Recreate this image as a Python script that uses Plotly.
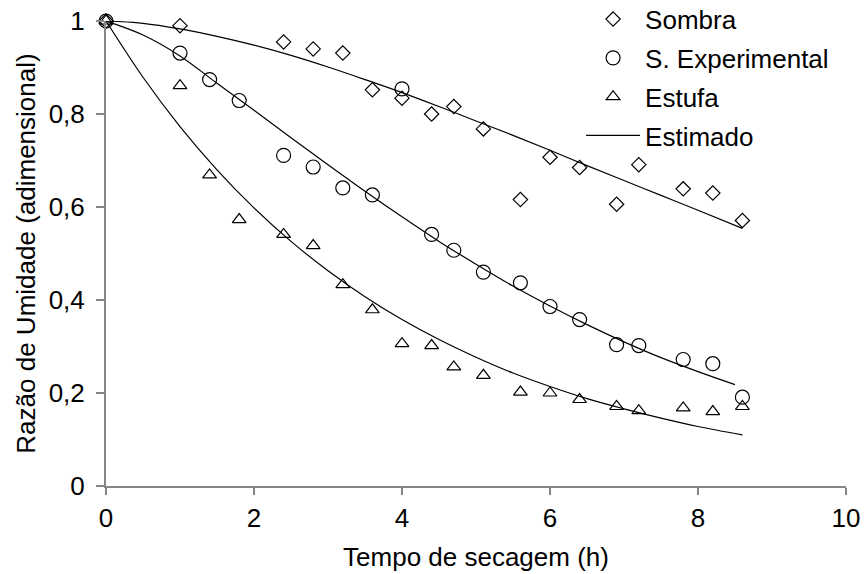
import plotly.graph_objects as go

# Observed data
tempo = [0, 1, 1.4, 1.8, 2.4, 2.8, 3.2, 3.6, 4.0, 4.4, 4.7, 5.1, 5.6, 6.0, 6.4, 6.9, 7.2, 7.8, 8.2, 8.6]
tempo_sombra = [0, 1, 2.4, 2.8, 3.2, 3.6, 4.0, 4.4, 4.7, 5.1, 5.6, 6.0, 6.4, 6.9, 7.2, 7.8, 8.2, 8.6]
sombra = [1.0, 0.99, 0.955, 0.94, 0.931, 0.852, 0.834, 0.80, 0.816, 0.768, 0.616, 0.707, 0.685, 0.606, 0.691, 0.639, 0.630, 0.571]
s_experimental = [1.0, 0.931, 0.874, 0.829, 0.711, 0.686, 0.641, 0.626, 0.854, 0.541, 0.507, 0.460, 0.437, 0.386, 0.358, 0.304, 0.302, 0.272, 0.263, 0.191]
estufa = [1.0, 0.861, 0.669, 0.573, 0.541, 0.517, 0.433, 0.379, 0.306, 0.302, 0.256, 0.238, 0.202, 0.200, 0.186, 0.171, 0.162, 0.168, 0.160, 0.171]

# Estimated (fitted) curves
t_est_sombra = [0, 0.5, 1, 1.5, 2, 2.5, 3, 3.5, 4, 4.5, 5, 5.5, 6, 6.5, 7, 7.5, 8, 8.6]
est_sombra = [1.0, 0.995, 0.983, 0.967, 0.948, 0.926, 0.901, 0.874, 0.846, 0.816, 0.785, 0.754, 0.722, 0.689, 0.657, 0.625, 0.593, 0.554]
t_est_sexp = [0, 0.5, 1, 1.5, 2, 2.5, 3, 3.5, 4, 4.5, 5, 5.5, 6, 6.5, 7, 7.5, 8, 8.5]
est_sexp = [1.0, 0.970, 0.925, 0.866, 0.808, 0.749, 0.691, 0.634, 0.579, 0.526, 0.477, 0.430, 0.387, 0.347, 0.310, 0.276, 0.246, 0.218]
t_est_estufa = [0, 0.5, 1, 1.5, 2, 2.5, 3, 3.5, 4, 4.5, 5, 5.5, 6, 6.5, 7, 7.5, 8, 8.6]
est_estufa = [1.0, 0.879, 0.773, 0.680, 0.598, 0.526, 0.463, 0.407, 0.358, 0.315, 0.277, 0.243, 0.214, 0.188, 0.166, 0.146, 0.128, 0.110]

x_ticks = [0, 2, 4, 6, 8, 10]
y_ticks = [0, 0.2, 0.4, 0.6, 0.8, 1]

FONT = "Liberation Sans, Arial, sans-serif"
FS = 26
AXIS_COLOR = "#868686"

fig = go.Figure()

fig.add_trace(go.Scatter(x=tempo_sombra, y=sombra, mode="markers", name="Sombra",
                         legendgroup="a",
                         marker=dict(symbol="diamond-open", size=11, color="black", line=dict(width=1.2, color="black")),
                         cliponaxis=False))
fig.add_trace(go.Scatter(x=tempo, y=s_experimental, mode="markers", name="S. Experimental",
                         legendgroup="b",
                         marker=dict(symbol="circle-open", size=14, color="black", line=dict(width=1.2, color="black")),
                         cliponaxis=False))
fig.add_trace(go.Scatter(x=tempo, y=estufa, mode="markers", name="Estufa",
                         legendgroup="c",
                         marker=dict(symbol="triangle-up-open", size=12, color="black", line=dict(width=1.2, color="black")),
                         cliponaxis=False))
fig.add_trace(go.Scatter(x=t_est_sombra, y=est_sombra, mode="lines", name="Estimado",
                         legendgroup="d",
                         line=dict(color="black", width=1.2, shape="spline"), cliponaxis=False))
fig.add_trace(go.Scatter(x=t_est_sexp, y=est_sexp, mode="lines", name="Estimado", showlegend=False,
                         legendgroup="d",
                         line=dict(color="black", width=1.2, shape="spline"), cliponaxis=False))
fig.add_trace(go.Scatter(x=t_est_estufa, y=est_estufa, mode="lines", name="Estimado", showlegend=False,
                         legendgroup="d",
                         line=dict(color="black", width=1.2, shape="spline"), cliponaxis=False))

fig.update_layout(
    width=864, height=574,
    margin=dict(l=106, r=18, t=21, b=88, autoexpand=False),
    paper_bgcolor="white", plot_bgcolor="white",
    separators=",.",
    font=dict(family=FONT, size=FS, color="black"),
    legend=dict(x=0.642, y=1.0545, xanchor="left", yanchor="top", xref="paper", yref="paper",
                bgcolor="rgba(0,0,0,0)", font=dict(size=FS, family=FONT),
                traceorder="grouped", tracegroupgap=2, itemwidth=54),
    showlegend=True,
)
fig.update_xaxes(range=[0, 10], tickvals=x_ticks, showgrid=False, zeroline=False,
                 showline=True, linecolor=AXIS_COLOR, linewidth=2, automargin=False,
                 ticks="outside", ticklen=7, tickwidth=2, tickcolor=AXIS_COLOR,
                 ticklabelstandoff=1, ticklabeloverflow="allow",
                 tickfont=dict(size=FS, family=FONT),
                 title=dict(text="Tempo de secagem (h)", font=dict(size=FS, family=FONT), standoff=16))
fig.update_yaxes(range=[0, 1], tickvals=y_ticks, showgrid=False, zeroline=False,
                 showline=True, linecolor=AXIS_COLOR, linewidth=2, automargin=False,
                 ticks="outside", ticklen=8, tickwidth=2, tickcolor=AXIS_COLOR,
                 ticklabelstandoff=6, ticklabeloverflow="allow",
                 tickfont=dict(size=FS, family=FONT),
                 title=dict(text="Razão de Umidade (adimensional)", font=dict(size=FS, family=FONT), standoff=6))

fig.write_html("out.html", config={"displayModeBar": False},
               post_script="document.body.style.margin='0';")
